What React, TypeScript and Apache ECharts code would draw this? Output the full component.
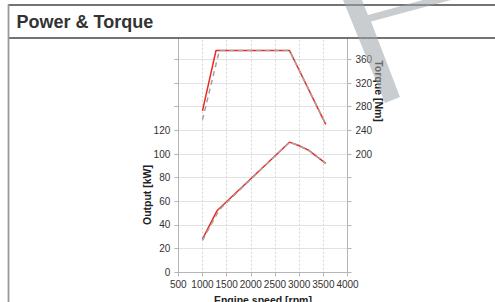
import React, { useEffect, useRef } from "react";
import * as echarts from "echarts";

const titleText = "Power & Torque";
const xAxisTitle = "Engine speed [rpm]";
const leftAxisTitle = "Output [kW]";
const rightAxisTitle = "Torque [Nm]";

// Engine speed (rpm) and values
const rpmPowerA = [1000, 1300, 2800, 3000, 3200, 3550];
const powerA = [28, 52, 110, 107, 103, 92];
const rpmTorqueA = [1000, 1280, 2800, 3550];
const torqueA = [273, 375, 375, 250];

const rpmPowerB = [1000, 1350, 2800, 3000, 3200, 3550];
const powerB = [27, 53, 110, 107, 103, 92];
const rpmTorqueB = [1000, 1350, 2800, 3550];
const torqueB = [258, 375, 375, 250];

const FONT = "Liberation Sans, Arial, sans-serif";

function pairs(xs: number[], ys: number[]) {
  return xs.map((x, i) => [x, ys[i]]);
}

export default function App() {
  const ref = useRef<HTMLDivElement>(null);
  useEffect(() => {
    if (!ref.current) return;
    const chart = echarts.init(ref.current, undefined, { renderer: "svg" });
    const red = "#ec2a23";
    const gray = "#a3a3a3";
    chart.setOption({
      animation: false,
      backgroundColor: "#ffffff",
      grid: {
        left: 178.3,
        right: 147.5,
        top: 35.7,
        bottom: 29.7,
        containLabel: false,
        outerBoundsMode: "none",
      },
      xAxis: {
        type: "value",
        min: 500,
        max: 4000,
        interval: 500,
        name: xAxisTitle,
        nameLocation: "middle",
        nameGap: 22,
        nameTextStyle: { fontFamily: FONT, fontSize: 10.5, fontWeight: "bold", color: "#222" },
        axisLine: { show: true, lineStyle: { color: "#b5b5b5" } },
        axisTick: { show: true, length: 4, lineStyle: { color: "#b5b5b5" } },
        axisLabel: {
          fontFamily: FONT,
          fontSize: 10,
          color: "#333",
          margin: 7,
          formatter: (v: number) => String(v),
        },
        splitLine: { show: true, lineStyle: { color: "#d6d6d6", type: [2, 2] } },
      },
      yAxis: [
        {
          type: "value",
          min: 0,
          max: 200,
          interval: 20,
          position: "left",
          axisLine: { show: true, lineStyle: { color: "#b5b5b5" } },
          axisTick: { show: true, length: 4, lineStyle: { color: "#b5b5b5" } },
          axisLabel: {
            fontFamily: FONT,
            fontSize: 10,
            color: "#333",
            margin: 8,
            formatter: (v: number) => (v <= 120 ? String(v) : ""),
          },
          splitLine: { show: true, lineStyle: { color: "#e2e2e2" } },
        },
        {
          type: "value",
          min: 0,
          max: 400,
          interval: 40,
          position: "right",
          axisLine: { show: true, lineStyle: { color: "#b5b5b5" } },
          axisTick: { show: true, length: 4, lineStyle: { color: "#b5b5b5" } },
          axisLabel: {
            fontFamily: FONT,
            fontSize: 10,
            color: "#333",
            margin: 8,
            formatter: (v: number) => (v >= 200 ? String(v) : ""),
          },
          splitLine: { show: false },
        },
      ],
      series: [
        {
          type: "line",
          yAxisIndex: 0,
          data: pairs(rpmPowerA, powerA),
          showSymbol: false,
          lineStyle: { color: red, width: 1.5 },
          z: 2,
        },
        {
          type: "line",
          yAxisIndex: 1,
          data: pairs(rpmTorqueA, torqueA),
          showSymbol: false,
          lineStyle: { color: red, width: 1.5 },
          z: 2,
        },
        {
          type: "line",
          yAxisIndex: 0,
          data: pairs(rpmPowerB, powerB),
          showSymbol: false,
          lineStyle: { color: gray, width: 1.5, type: [5, 4] },
          z: 3,
        },
        {
          type: "line",
          yAxisIndex: 1,
          data: pairs(rpmTorqueB, torqueB),
          showSymbol: false,
          lineStyle: { color: gray, width: 1.5, type: [5, 4] },
          z: 3,
        },
      ],
      graphic: [
        {
          type: "rect",
          z: 50,
          shape: { x: 0, y: 0, width: 495, height: 38.5 },
          style: { fill: "#ffffff" },
        },
        {
          type: "text",
          z: 60,
          x: 146.7,
          y: 195,
          rotation: Math.PI / 2,
          style: {
            text: leftAxisTitle,
            fontFamily: FONT,
            fontSize: 10.5,
            fontWeight: "bold",
            fill: "#222",
            align: "center",
            verticalAlign: "middle",
          },
        },
        {
          type: "text",
          z: 60,
          x: 379,
          y: 91,
          rotation: -Math.PI / 2,
          style: {
            text: rightAxisTitle,
            fontFamily: FONT,
            fontSize: 10.5,
            fontWeight: "bold",
            fill: "#222",
            align: "center",
            verticalAlign: "middle",
          },
        },
        {
          type: "text",
          z: 60,
          x: 16.5,
          y: 22,
          style: {
            text: titleText,
            fontFamily: FONT,
            fontSize: 18,
            fontWeight: "bold",
            fill: "#333",
            align: "left",
            verticalAlign: "middle",
          },
        },
        {
          type: "line",
          z: 60,
          shape: { x1: 8, y1: 5, x2: 495, y2: 5 },
          style: { stroke: "#444", lineWidth: 1.3 },
        },
        {
          type: "line",
          z: 60,
          shape: { x1: 8, y1: 38, x2: 495, y2: 38 },
          style: { stroke: "#444", lineWidth: 1.3 },
        },
        {
          type: "line",
          z: 60,
          shape: { x1: 8.5, y1: 4.5, x2: 8.5, y2: 302 },
          style: { stroke: "#999", lineWidth: 1.8 },
        },
        {
          type: "polygon",
          z: 70,
          shape: {
            points: [
              [343, 0],
              [362, 0],
              [368, 15],
              [423, 0],
              [451, 0],
              [371, 21.5],
              [400, 97],
              [385, 103],
            ],
          },
          style: { fill: "#9ea4a9", opacity: 0.55 },
        },
      ],
    });
    return () => chart.dispose();
  }, []);
  return (
    <div
      ref={ref}
      style={{ position: "fixed", left: 0, top: 0, width: 495, height: 302, background: "#fff" }}
    />
  );
}
